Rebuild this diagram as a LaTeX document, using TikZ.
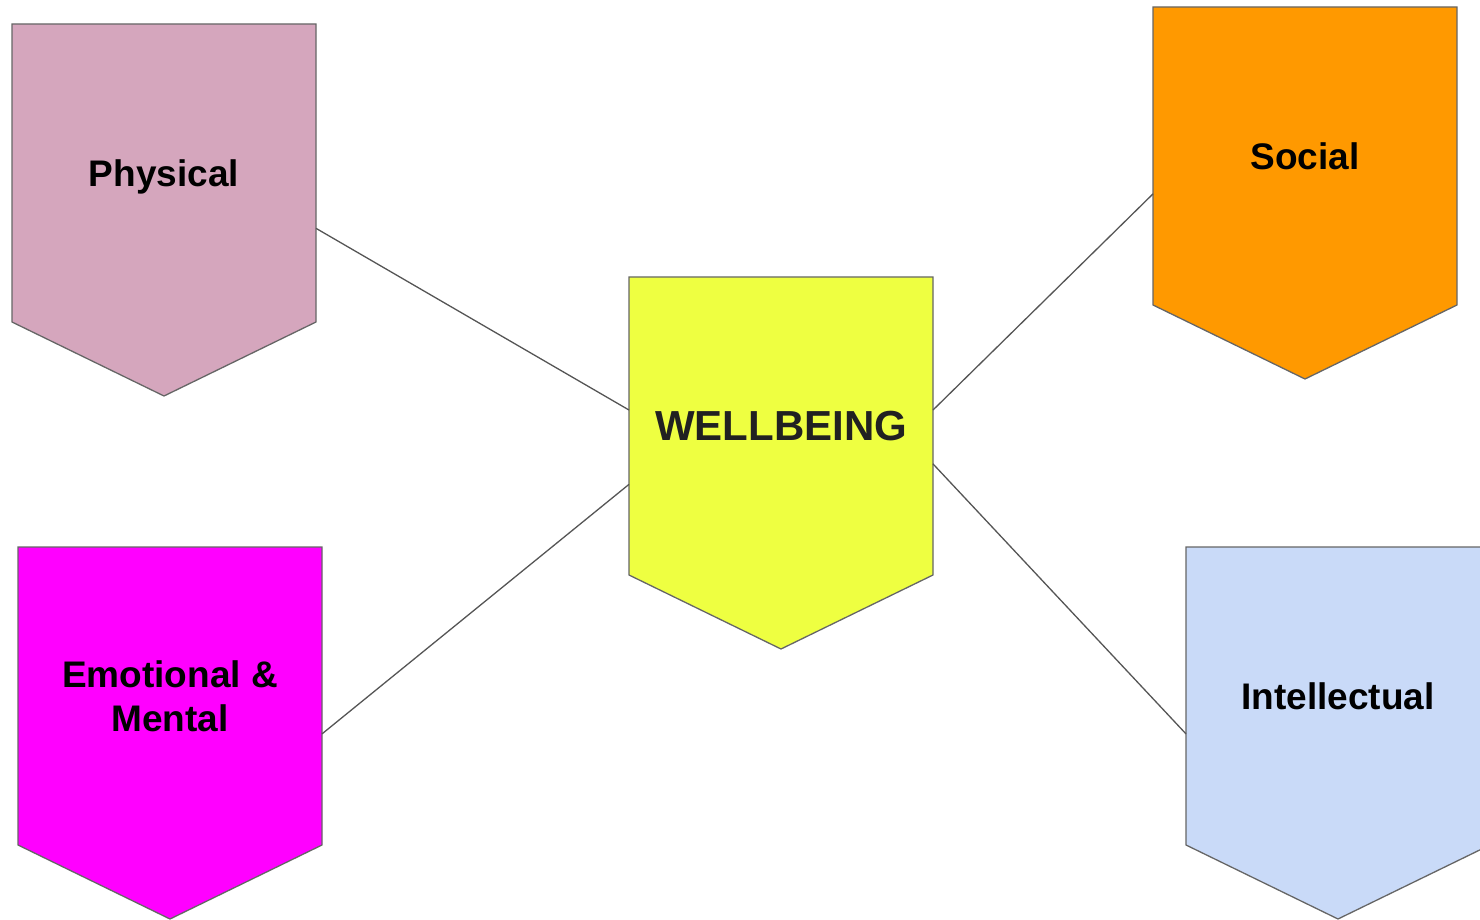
\documentclass[tikz,border=0pt]{standalone}
\usepackage{fontspec}
\setmainfont{Liberation Sans}
\usetikzlibrary{backgrounds}
\definecolor{physcol}{HTML}{D5A6BD}
\definecolor{soccol}{HTML}{FF9900}
\definecolor{wellcol}{HTML}{EEFF41}
\definecolor{emocol}{HTML}{FF00FF}
\definecolor{intcol}{HTML}{C9DAF8}
\definecolor{edgecol}{HTML}{666666}
\definecolor{linkcol}{HTML}{555555}
\tikzstyle{tag} = [rectangle, minimum width=152pt, minimum height=149pt, outer sep=0pt,
    inner sep=0pt, align=center, text centered, text depth=0pt,
    font=\bfseries\fontsize{18.5}{22}\selectfont]
\tikzstyle{tagedge} = [draw=edgecol, line width=0.65pt, line join=miter]
\tikzstyle{link} = [draw=linkcol, line width=0.65pt]

\begin{document}
\begin{tikzpicture}[x=0.5pt,y=-0.5pt]
    \useasboundingbox (0,0) rectangle (1480,920);
    \node[tag] (phys) at (164,173) {Physical};
    \node[tag] (soc) at (1305,156) {Social};
    \node[tag, text=black!87, font=\bfseries\fontsize{21}{25}\selectfont] (well) at (781,426) {WELLBEING};
    \node[tag] (emo) at (170,696) {Emotional \&\\Mental};
    \node[tag] (int) at (1338,696) {Intellectual};
    \begin{scope}[on background layer]
        \foreach \n/\c in {phys/physcol, soc/soccol, well/wellcol, emo/emocol, int/intcol}
            \draw[tagedge, fill=\c] (\n.north west) -- (\n.north east) -- (\n.south east)
                -- ([yshift=-37pt]\n.south) -- (\n.south west) -- cycle;
        \draw[link] (phys.-20) -- (well.174);
        \draw[link] (emo.-14) -- (well.-159);
        \draw[link] (soc.194) -- (well.6);
        \draw[link] (int.194) -- (well.-14);
    \end{scope}
\end{tikzpicture}
\end{document}
